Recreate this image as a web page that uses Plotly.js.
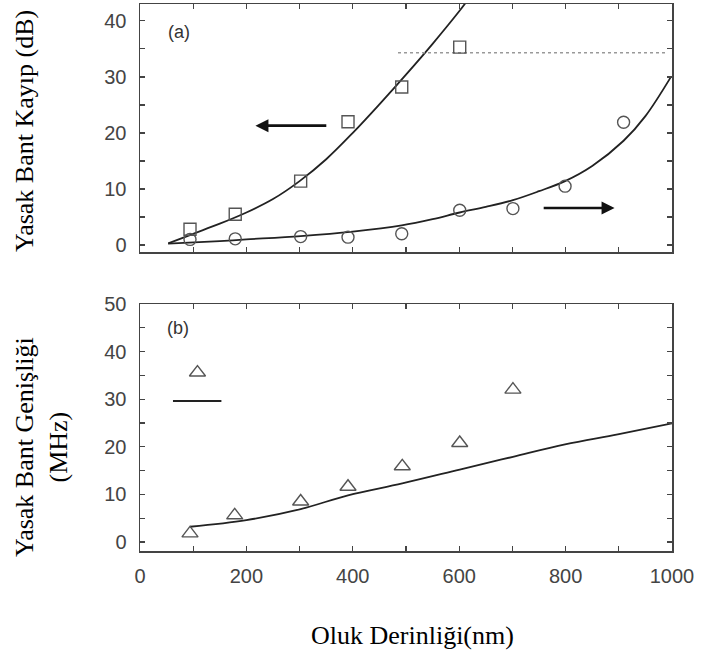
<!DOCTYPE html>
<html>
<head>
<meta charset="utf-8">
<script src="https://cdn.plot.ly/plotly-3.0.1.min.js"></script>
<style>html,body{margin:0;padding:0;background:#fff;}#chart{width:701px;height:654px;}</style>
</head>
<body>
<div id="chart"></div>
<script>
// ---- Panel (a): band-stop loss ----
var squareDepth = [94, 179, 302, 391, 492, 601];
var squareLoss  = [2.8, 5.5, 11.4, 22.0, 28.2, 35.3];
var circleDepth = [94, 179, 302, 391, 492, 601, 701, 799, 909];
var circleLoss  = [1.0, 1.1, 1.5, 1.4, 2.0, 6.2, 6.5, 10.5, 21.9];
var fitUpperDepth = [53, 100, 150, 200, 250, 300, 350, 400, 450, 500, 550, 600, 612];
var fitUpperLoss  = [0.3, 2.0, 3.8, 5.8, 8.2, 11.4, 15.3, 20.0, 25.1, 30.4, 35.9, 41.7, 43.2];
var fitLowerDepth = [53, 150, 200, 302, 400, 492, 550, 601, 650, 701, 750, 799, 850, 909, 950, 998];
var fitLowerLoss  = [0.25, 0.7, 1.0, 1.6, 2.4, 3.5, 4.6, 5.8, 6.8, 8.0, 9.6, 11.4, 14.1, 18.6, 23.0, 30.0];
var dottedDepth = [485, 990];
var dottedLoss  = [34.3, 34.3];

// ---- Panel (b): bandwidth ----
var triDepth = [94, 178, 302, 391, 493, 601, 701];
var triWidth = [1.8, 5.6, 8.5, 11.6, 15.9, 20.8, 32.0];
var fitBDepth = [94, 200, 302, 391, 493, 601, 701, 799, 898, 1000];
var fitBWidth = [3.2, 4.6, 6.9, 9.8, 12.3, 15.2, 17.9, 20.5, 22.6, 24.9];
var legendTriDepth = [108];
var legendTriWidth = [35.6];
var legendLineDepth = [62, 153];
var legendLineWidth = [29.6, 29.6];

// arrows [tailX, headX, y]
var arrowLeft  = [353, 217, 21.3];
var arrowRight = [756, 892, 6.6];

var xTickVals = [0, 200, 400, 600, 800, 1000];
var xTickText = ['0', '200', '400', '600', '800', '1000'];

var ink = '#222';
var markColor = '#555';
var tickFont = {family: 'Liberation Sans, Arial, sans-serif', size: 20, color: '#444'};
var titleFont = {family: 'Liberation Serif, Times New Roman, serif', size: 26, color: '#000'};
var panelFont = {family: 'Liberation Sans, Arial, sans-serif', size: 18, color: '#333'};

var traces = [
  {x: fitUpperDepth, y: fitUpperLoss, mode: 'lines', line: {color: ink, width: 1.8, shape: 'spline'}, xaxis: 'x', yaxis: 'y'},
  {x: fitLowerDepth, y: fitLowerLoss, mode: 'lines', line: {color: ink, width: 1.8, shape: 'spline'}, xaxis: 'x', yaxis: 'y'},
  {x: dottedDepth, y: dottedLoss, mode: 'lines', line: {color: '#999', width: 1.5, dash: 'dot'}, xaxis: 'x', yaxis: 'y'},
  {x: squareDepth, y: squareLoss, mode: 'markers', marker: {symbol: 'square-open', size: 12, color: markColor, line: {width: 1.4}}, xaxis: 'x', yaxis: 'y'},
  {x: circleDepth, y: circleLoss, mode: 'markers', marker: {symbol: 'circle-open', size: 12, color: markColor, line: {width: 1.4}}, xaxis: 'x', yaxis: 'y'},
  {x: fitBDepth, y: fitBWidth, mode: 'lines', line: {color: ink, width: 1.8, shape: 'spline'}, xaxis: 'x2', yaxis: 'y2'},
  {x: triDepth, y: triWidth, mode: 'markers', marker: {symbol: 'triangle-up-open', size: 14, color: markColor, line: {width: 1.4}}, xaxis: 'x2', yaxis: 'y2'},
  {x: legendTriDepth, y: legendTriWidth, mode: 'markers', marker: {symbol: 'triangle-up-open', size: 14, color: markColor, line: {width: 1.4}}, xaxis: 'x2', yaxis: 'y2'},
  {x: legendLineDepth, y: legendLineWidth, mode: 'lines', line: {color: ink, width: 2}, xaxis: 'x2', yaxis: 'y2'}
];

var axisCommon = {
  showline: true, mirror: 'ticks', linecolor: '#444', linewidth: 1.5,
  ticks: 'inside', ticklen: 5, tickwidth: 1.3, tickcolor: '#444',
  showgrid: false, zeroline: false, tickfont: tickFont
};
function ax(extra) { return Object.assign({}, axisCommon, extra); }

var W = 701, H = 654, mL = 140, mR = 29, mT = 4, mB = 103;
var pw = W - mL - mR, ph = H - mT - mB;
function px2paperX(p) { return (p - mL) / pw; }
function px2paperY(p) { return (H - mB - p) / ph; }

var layout = {
  width: W, height: H,
  margin: {l: mL, r: mR, t: mT, b: mB},
  paper_bgcolor: '#fff', plot_bgcolor: '#fff',
  showlegend: false,
  xaxis: ax({domain: [0, 1], range: [0, 1000], dtick: 100, showticklabels: false, anchor: 'y'}),
  yaxis: ax({domain: [px2paperY(252.3), 1], range: [-1.3, 43], dtick: 10, anchor: 'x',
             ticklabelstandoff: 8,
             minor: {dtick: 5, ticks: 'inside', ticklen: 5, tickcolor: '#444', tickwidth: 1.3}}),
  xaxis2: ax({domain: [0, 1], range: [0, 1000], tickvals: xTickVals, ticktext: xTickText, anchor: 'y2',
              ticklabelstandoff: 6,
              minor: {dtick: 100, ticks: 'inside', ticklen: 5, tickcolor: '#444', tickwidth: 1.3}}),
  yaxis2: ax({domain: [0, px2paperY(304)], range: [-1.9, 50], dtick: 10, anchor: 'x2',
              ticklabelstandoff: 8,
              minor: {dtick: 5, ticks: 'inside', ticklen: 5, tickcolor: '#444', tickwidth: 1.3}}),
  annotations: [
    {x: arrowLeft[1], y: arrowLeft[2], ax: arrowLeft[0], ay: arrowLeft[2], xref: 'x', yref: 'y', axref: 'x', ayref: 'y',
     text: '', showarrow: true, arrowhead: 2, arrowsize: 1, arrowwidth: 2.6, arrowcolor: '#111'},
    {x: arrowRight[1], y: arrowRight[2], ax: arrowRight[0], ay: arrowRight[2], xref: 'x', yref: 'y', axref: 'x', ayref: 'y',
     text: '', showarrow: true, arrowhead: 2, arrowsize: 1, arrowwidth: 2.6, arrowcolor: '#111'},
    {x: 73, y: 38, xref: 'x', yref: 'y', text: '(a)', showarrow: false, font: panelFont},
    {x: 72, y: 44.9, xref: 'x2', yref: 'y2', text: '(b)', showarrow: false, font: panelFont},
    {x: px2paperX(24), y: px2paperY(131), xref: 'paper', yref: 'paper', text: 'Yasak Bant Kayıp (dB)',
     textangle: -90, showarrow: false, xanchor: 'center', yanchor: 'middle', font: titleFont},
    {x: px2paperX(41), y: px2paperY(447), xref: 'paper', yref: 'paper', text: 'Yasak Bant Genişliği<br>(MHz)',
     textangle: -90, showarrow: false, xanchor: 'center', yanchor: 'middle', font: titleFont},
    {x: px2paperX(412), y: px2paperY(635), xref: 'paper', yref: 'paper', text: 'Oluk Derinliği(nm)',
     showarrow: false, xanchor: 'center', yanchor: 'middle', font: titleFont}
  ]
};

Plotly.newPlot('chart', traces, layout, {displayModeBar: false, staticPlot: true});
</script>
</body>
</html>
